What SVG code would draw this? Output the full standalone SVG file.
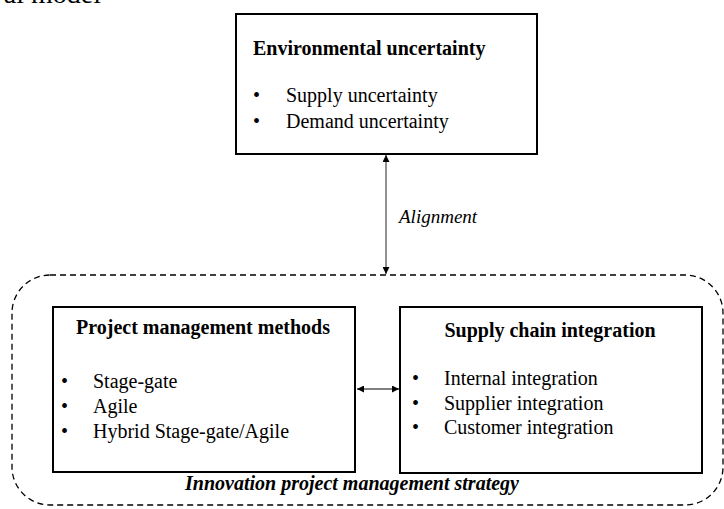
<svg xmlns="http://www.w3.org/2000/svg" width="724" height="509" viewBox="0 0 724 509">
<style>
text{font-family:"Liberation Serif","Times New Roman",serif;fill:#000}
.t{font-size:20px;font-weight:bold}
.b{font-size:20px}
.box{fill:#fff;stroke:#000;stroke-width:2}
.conn{stroke:#555;stroke-width:1.3;fill:none}
</style>
<defs>
<marker id="ah" viewBox="0 0 10 10" refX="10" refY="5" markerWidth="7" markerHeight="7" orient="auto-start-reverse" markerUnits="userSpaceOnUse">
<path d="M0,0 L10,5 L0,10 z" fill="#000"/>
</marker>
</defs>
<text x="101" y="3" font-size="28" text-anchor="end">al model</text>
<g id="strategy">
<rect x="12" y="275" width="711" height="230" rx="38" ry="38" fill="none" stroke="#000" stroke-width="1.3" stroke-dasharray="6,4"/>
<text x="352" y="490" font-size="20" font-weight="bold" font-style="italic" text-anchor="middle">Innovation project management strategy</text>
</g>
<g id="env">
<rect class="box" x="236" y="14" width="301" height="140"/>
<text class="t" x="253" y="55">Environmental uncertainty</text>
<text class="b" x="253" y="102">•</text><text class="b" x="286" y="102">Supply uncertainty</text>
<text class="b" x="253" y="128">•</text><text class="b" x="286" y="128">Demand uncertainty</text>
</g>
<g id="pm">
<rect class="box" x="53" y="307" width="302" height="165"/>
<text class="t" x="203" y="334" text-anchor="middle">Project management methods</text>
<text class="b" x="61" y="388">•</text><text class="b" x="93" y="388">Stage-gate</text>
<text class="b" x="61" y="413">•</text><text class="b" x="93" y="413">Agile</text>
<text class="b" x="61" y="438">•</text><text class="b" x="93" y="438">Hybrid Stage-gate/Agile</text>
</g>
<g id="sci">
<rect class="box" x="400" y="307" width="302" height="166"/>
<text class="t" x="550" y="337" text-anchor="middle">Supply chain integration</text>
<text class="b" x="412" y="385">•</text><text class="b" x="444" y="385">Internal integration</text>
<text class="b" x="412" y="410">•</text><text class="b" x="444" y="410">Supplier integration</text>
<text class="b" x="412" y="434">•</text><text class="b" x="444" y="434">Customer integration</text>
</g>
<g id="connectors">
<line class="conn" x1="386" y1="155" x2="386" y2="274" marker-start="url(#ah)" marker-end="url(#ah)"/>
<line class="conn" x1="357" y1="389" x2="399" y2="389" marker-start="url(#ah)" marker-end="url(#ah)"/>
<text x="399" y="223" font-size="19" font-style="italic">Alignment</text>
</g>
</svg>
